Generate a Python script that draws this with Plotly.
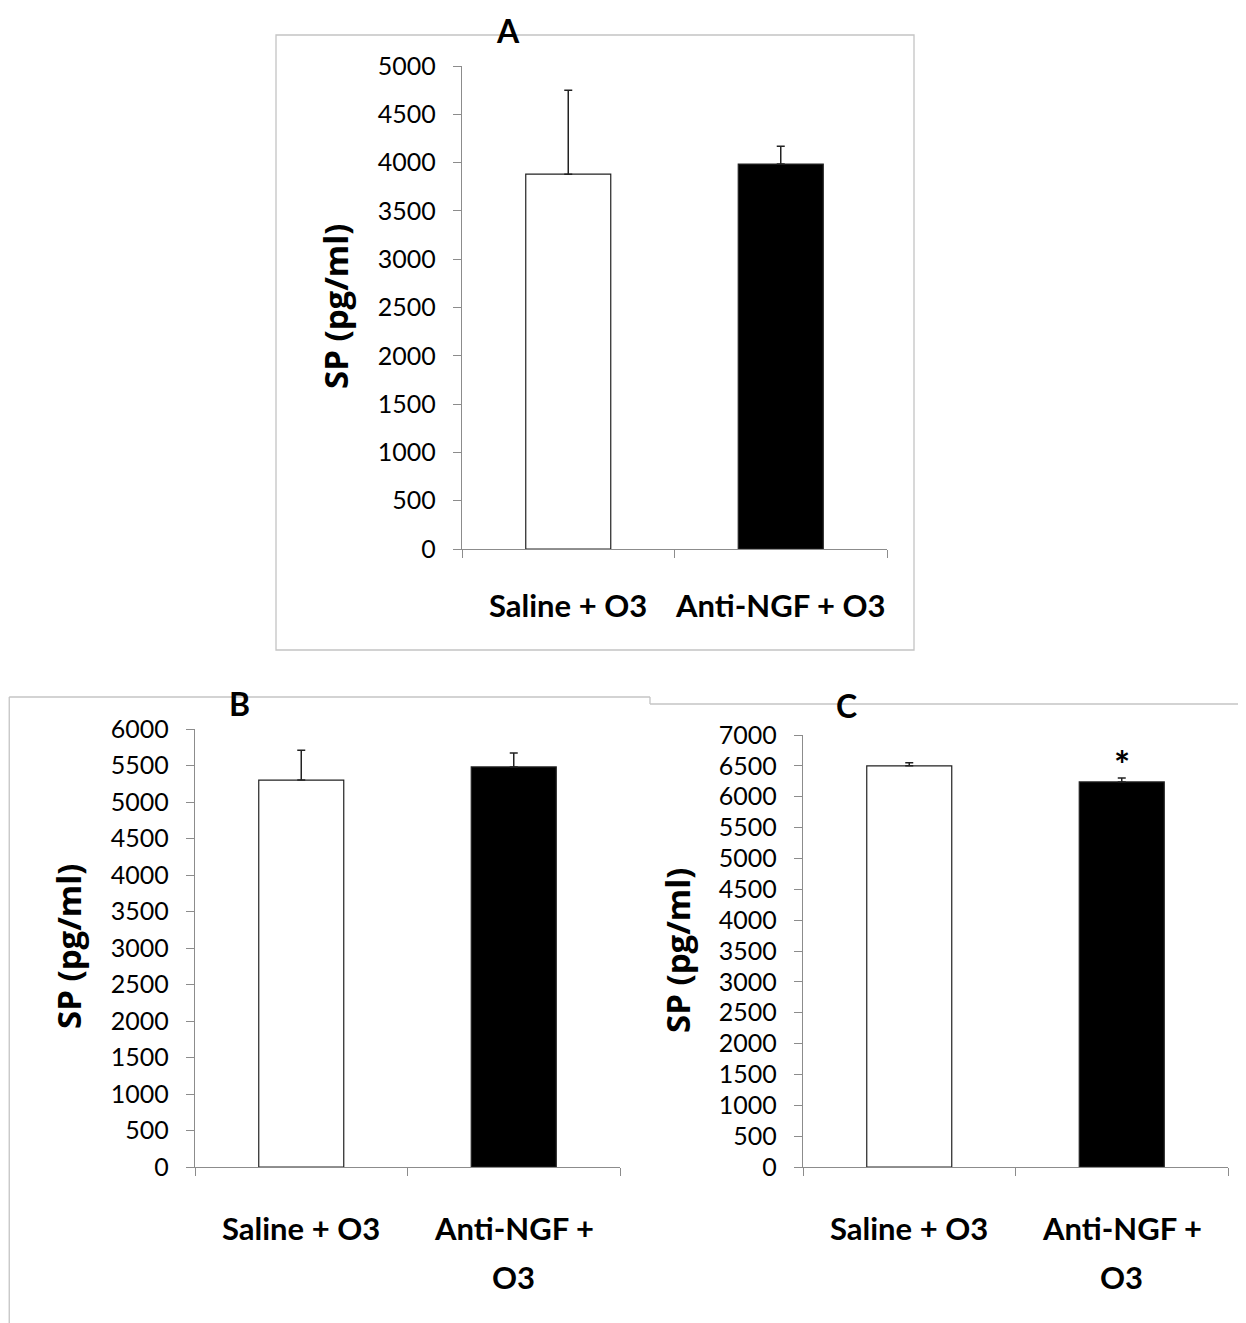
import plotly.graph_objects as go

W, H = 1246, 1323
OFFSET = 8  # page body margin in the rendered screenshot

categories = ["Saline + O3", "Anti-NGF + O3"]
label_lines_a = [["Saline + O3"], ["Anti-NGF + O3"]]
label_lines_bc = [["Saline + O3"], ["Anti-NGF +", "O3"]]

a_values = [3880, 3985]
a_errors = [870, 185]
b_values = [5300, 5480]
b_errors = [410, 190]
c_values = [6500, 6240]
c_errors = [50, 65]

a_ticks = list(range(0, 5001, 500))
b_ticks = list(range(0, 6001, 500))
c_ticks = list(range(0, 7001, 500))

bar_colors = ["white", "black"]
FONT = "Lato"


def px(x):
    return max(0.0, (x - OFFSET) / W)


def py(y):
    return 1 - (y - OFFSET) / H


fig = go.Figure()

panels = [
    ("x", "y", a_values, a_errors),
    ("x2", "y2", b_values, b_errors),
    ("x3", "y3", c_values, c_errors),
]
for xa, ya, vals, errs in panels:
    fig.add_trace(go.Bar(
        x=categories, y=vals, xaxis=xa, yaxis=ya, width=0.4,
        marker=dict(color=bar_colors, line=dict(color="#222222", width=1.2)),
        error_y=dict(type="data", array=errs, arrayminus=[0] * len(errs),
                     symmetric=False, color="#222222", thickness=1.5, width=4),
        showlegend=False,
    ))

axis_common = dict(showgrid=False, zeroline=False, showline=True, linecolor="#8c8c8c",
                   linewidth=1.3, ticks="outside", tickcolor="#8c8c8c", ticklen=8,
                   automargin=False)

x_domains = [(462, 887), (195, 620), (803, 1228)]
y_domains = [(549, 66), (1167, 729), (1167, 735)]
y_ranges = [5000, 6000, 7000]
y_tickvals = [a_ticks, b_ticks, c_ticks]
suffix = ["", "2", "3"]

for i in range(3):
    xs = suffix[i]
    fig.layout["xaxis" + xs] = dict(
        axis_common, domain=[px(x_domains[i][0]), px(x_domains[i][1])],
        anchor="y" + xs, type="category", tickson="boundaries",
        showticklabels=False, range=[-0.5, 1.5],
    )
    fig.layout["yaxis" + xs] = dict(
        axis_common, domain=[py(y_domains[i][0]), py(y_domains[i][1])],
        anchor="x" + xs, range=[0, y_ranges[i]], tickvals=y_tickvals[i],
        tickfont=dict(family=FONT, size=25, color="black"), ticklabelstandoff=12,
    )

annotations = []
# category labels (one annotation per text line)
label_sets = [("x", label_lines_a, 605, 0), ("x2", label_lines_bc, 1228, 49), ("x3", label_lines_bc, 1228, 49)]
for xref, lines_per_cat, y0, step in label_sets:
    for cat, lines in zip(categories, lines_per_cat):
        for k, line in enumerate(lines):
            annotations.append(dict(text=f"<b>{line}</b>", x=cat, xref=xref, y=py(y0 + k * step),
                                    yref="paper", showarrow=False, xanchor="center", yanchor="middle",
                                    font=dict(family=FONT, size=31, color="black")))
# panel titles
for txt, x, y in [("A", 508, 30), ("B", 239, 704), ("C", 846, 705)]:
    annotations.append(dict(text=f"<b>{txt}</b>", x=px(x), y=py(y), xref="paper", yref="paper",
                            showarrow=False, font=dict(family=FONT, size=32, color="black"),
                            xanchor="center", yanchor="middle"))
# y-axis titles
for x, y in [(335, 307), (68, 947), (677, 950)]:
    annotations.append(dict(text="<b>SP (pg/ml)</b>", x=px(x), y=py(y), xref="paper", yref="paper",
                            showarrow=False, textangle=-90,
                            font=dict(family="Open Sans", size=33, color="black"),
                            xanchor="center", yanchor="middle"))
# significance marker
annotations.append(dict(text="<b>*</b>", x=categories[1], y=py(764), xref="x3", yref="paper",
                        showarrow=False, yanchor="middle",
                        font=dict(family=FONT, size=38, color="black")))

border = dict(color="#c4c4c4", width=1.3)
shapes = [
    dict(type="rect", xref="paper", yref="paper", x0=px(276), x1=px(914), y0=py(650), y1=py(35),
         line=border, layer="below"),
    dict(type="line", xref="paper", yref="paper", x0=0.001, x1=0.001, y0=py(697), y1=0, line=border),
    dict(type="line", xref="paper", yref="paper", x0=0.001, x1=px(650), y0=py(697), y1=py(697), line=border),
    dict(type="line", xref="paper", yref="paper", x0=px(650), x1=px(650), y0=py(697), y1=py(704), line=border),
    dict(type="line", xref="paper", yref="paper", x0=px(650), x1=1, y0=py(704), y1=py(704), line=border),
]

fig.update_layout(
    width=W, height=H, margin=dict(l=0, r=0, t=0, b=0, autoexpand=False),
    paper_bgcolor="white", plot_bgcolor="white",
    annotations=annotations, shapes=shapes,
    font=dict(family=FONT, color="black"),
)

fig.write_html("out.html")
